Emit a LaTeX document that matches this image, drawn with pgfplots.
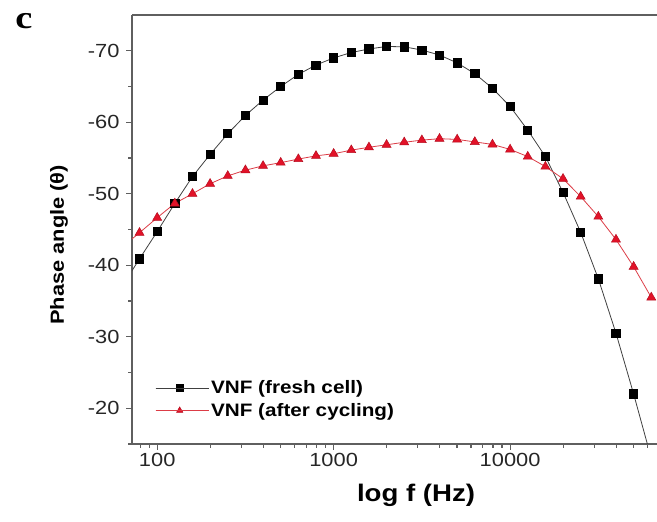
\documentclass[border=0pt]{standalone}
\usepackage{pgfplots}
\pgfplotsset{compat=1.18}
\usepackage{pgfplotstable}
\usepackage{fontspec}
\setmainfont{Liberation Sans}[FakeStretch=1.15]
\newfontfamily\panelfont{Liberation Serif}[FakeStretch=1.2]
\definecolor{axgray}{RGB}{95,95,95}
\definecolor{myred}{RGB}{226,18,40}
\definecolor{redline}{RGB}{220,60,70}

\pgfplotstableread{
f black red
63.096 -37.0 -42.5
79.433 -40.9 -44.55
100.00 -44.7 -46.65
125.89 -48.65 -48.65
158.49 -52.4 -50.0
199.53 -55.5 -51.4
251.19 -58.4 -52.5
316.23 -60.95 -53.3
398.11 -63.1 -53.9
501.19 -65.0 -54.35
630.96 -66.7 -54.85
794.33 -68.0 -55.3
1000.0 -69.0 -55.6
1258.9 -69.75 -56.1
1584.9 -70.25 -56.5
1995.3 -70.6 -56.85
2511.9 -70.55 -57.2
3162.3 -70.1 -57.5
3981.1 -69.4 -57.7
5011.9 -68.3 -57.6
6309.6 -66.8 -57.25
7943.3 -64.75 -56.9
10000 -62.2 -56.2
12589 -58.9 -55.2
15849 -55.2 -53.8
19953 -50.2 -52.1
25119 -44.6 -49.6
31623 -38.1 -46.8
39811 -30.5 -43.6
50119 -22.0 -39.8
63096 -13.0 -35.5
}\data

\begin{document}
\begin{tikzpicture}
\begin{axis}[
  scale only axis, width=525bp, height=429bp,
  xmode=log, xmin=72, xmax=68000,
  ymin=-75, ymax=-15, y dir=reverse,
  axis x line*=box, axis y line*=left,
  axis line style={axgray, line width=1.6bp},
  tick style={axgray, line width=1.1bp},
  major tick length=6bp, minor tick length=4bp,
  tick align=outside,
  xtick pos=bottom, ytick pos=left,
  xtick={100,1000,10000}, xticklabels={100,1000,10000},
  minor xtick={80,90,200,300,400,500,600,700,800,900,2000,3000,4000,5000,6000,7000,8000,9000,20000,30000,40000,50000,60000},
  ytick={-70,-60,-50,-40,-30,-20}, yticklabels={-70,-60,-50,-40,-30,-20},
  minor ytick={-65,-55,-45,-35,-25,-15},
  tick label style={font=\fontsize{19bp}{19bp}\selectfont, text=black!85},
  yticklabel style={xshift=-3bp},
  xlabel={log f (Hz)},
  xlabel style={font=\bfseries\fontsize{24bp}{24bp}\selectfont, at={(axis description cs:0.541,-0.119)}, anchor=center},
  ylabel={Phase angle (θ)},
  ylabel style={font=\bfseries\fontsize{19bp}{19bp}\selectfont, at={(axis description cs:-0.139,0.464)}, anchor=center},
  legend style={draw=none, fill=none, inner sep=0pt, at={(axis description cs:0.044,0.056)}, anchor=south west,
    font=\bfseries\fontsize{18bp}{18bp}\selectfont, row sep=4bp, nodes={inner sep=2bp}},
  legend cell align=left,
  legend image code/.code={
    \draw[#1, mark=none] (0bp,0bp) -- (16bp,0bp);
    \draw[#1, mark=none] (32bp,0bp) -- (48bp,0bp);
    \draw[#1, mark size=3.6bp, only marks] plot coordinates {(24bp,0bp)};
    \path (0bp,0bp) -- (53bp,0bp);},
]
\addplot[color=black!75, line width=0.8bp, mark=square*, mark size=4.1bp, mark options={solid, fill=black, draw=black}] table[x=f, y=black] {\data};
\addlegendentry{VNF (fresh cell)}
\addplot[color=redline, line width=0.8bp, mark=triangle*, mark size=5.2bp, mark options={solid, fill=myred, draw=myred!80!black, line width=0.5bp}] table[x=f, y=red] {\data};
\addlegendentry{VNF (after cycling)}
\end{axis}
\node[font=\panelfont\bfseries\fontsize{32bp}{32bp}\selectfont, inner sep=0pt] at ([shift={(-108bp,-5.8bp)}]current axis.north west) {c};
\pgfresetboundingbox
\path[use as bounding box] ([shift={(-132bp,-78bp)}]current axis.south west) rectangle ([shift={(0bp,15bp)}]current axis.north east);
\end{tikzpicture}
\end{document}
